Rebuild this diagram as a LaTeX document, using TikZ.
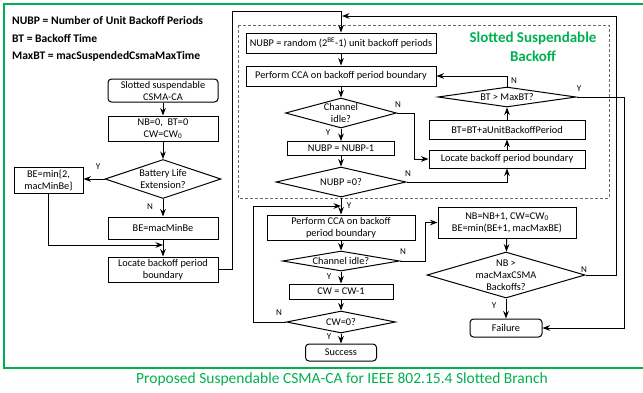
\documentclass[tikz,border=0pt]{standalone}
\usepackage{fontspec}
\setmainfont{Carlito}
\usepackage{xcolor}
\usepackage{tikz}
\usetikzlibrary{arrows.meta}
\usetikzlibrary{shapes.geometric}

\definecolor{verde}{RGB}{0,176,80}
\definecolor{gris}{RGB}{105,105,105}

\begin{document}
\begin{tikzpicture}[
            x=1pt, y=-1pt, font=\fontsize{10.3}{12}\selectfont,
            >=Stealth,
            box/.style={draw, line width=1pt, align=center, inner sep=1pt},
            rbox/.style={box, rounded corners=3.5pt},
            dia/.style={draw, diamond, line width=1pt, inner sep=0pt},
            lab/.style={align=center, inner sep=0pt},
            yn/.style={font=\fontsize{9}{10}\selectfont, inner sep=0pt},
            defn/.style={anchor=west, inner sep=0pt, font=\bfseries\fontsize{11.6}{13}\selectfont},
            flow/.style={->, line width=1pt}
        ]
            \useasboundingbox (0,0) rectangle (643,392);

            % Marco y pie
            \draw[verde, line width=1.2pt] (4,4) rectangle (660,368);
            \node[verde, font=\fontsize{15.5}{17}\selectfont] (pie) at (342,379) {Proposed Suspendable CSMA-CA for IEEE 802.15.4 Slotted Branch};

            % Definiciones
            \node[defn] (def1) at (12,20) {NUBP = Number of Unit Backoff Periods};
            \node[defn] (def2) at (12,38) {BT = Backoff Time};
            \node[defn] (def3) at (12,56) {MaxBT = macSuspendedCsmaMaxTime};

            % Parte izquierda
            \node[rbox, minimum width=110, minimum height=23] (inicio) at (163,90.5) {Slotted suspendable\\CSMA-CA};
            \node[box, minimum width=110, minimum height=25] (ini) at (163,128.5) {NB=0,\ \ BT=0\\CW=CW\textsubscript{0}};
            \node[dia, minimum width=116, minimum height=39, label={[lab]center:Battery Life\\Extension?}] (bat) at (163,179) {};
            \node[box, minimum width=69, minimum height=26] (bemin) at (48.5,180) {BE=min\{2,\\macMinBe\}};
            \node[box, minimum width=110, minimum height=22] (bemac) at (163,228) {BE=macMinBe};
            \node[box, minimum width=110, minimum height=25] (loc1) at (163,269.5) {Locate backoff period\\boundary};
            \coordinate (m1) at (163,245);

            \draw[flow] (inicio) -- (ini);
            \draw[flow] (ini) -- (bat);
            \draw[flow] (bat.west) -- (bemin.east |- bat.west);
            \draw[flow] (bat) -- (bemac);
            \draw[flow] (bemin.south) |- (m1);
            \draw[flow] (bemac) -- (loc1);
            \node[yn] (y1) at (98,167) {Y};
            \node[yn] (n1) at (150,207) {N};

            % Backoff suspendible
            \draw[gris, line width=0.8pt, dash pattern=on 3pt off 2pt] (238,25) rectangle (609,198);
            \node[verde, align=center, font=\bfseries\fontsize{15}{19}\selectfont] (titulo) at (533,46.5) {Slotted Suspendable\\Backoff};

            \node[box, minimum width=190, minimum height=20] (nubp) at (341,43) {NUBP = random (2\textsuperscript{BE}-1) unit backoff periods};
            \node[box, minimum width=190, minimum height=20] (cca1) at (341,76) {Perform CCA on backoff period boundary};
            \node[dia, minimum width=111, minimum height=30, label={[lab]center:Channel\\idle?}] (idle1) at (341,113) {};
            \node[box, minimum width=107, minimum height=14] (dec1) at (341,148.5) {NUBP = NUBP-1};
            \node[dia, minimum width=130, minimum height=30, label={[lab]center:NUBP =0?}] (cero1) at (341,182) {};
            \node[dia, minimum width=138, minimum height=20, label={[lab]center:BT > MaxBT?}] (btmax) at (507,97) {};
            \node[box, minimum width=156, minimum height=19] (btinc) at (507,129.5) {BT=BT+aUnitBackoffPeriod};
            \node[box, minimum width=156, minimum height=18] (loc2) at (507,159) {Locate backoff period boundary};

            \coordinate (c1) at (232,11);
            \draw[flow] (loc1.east) -| (c1) -| (nubp.north);
            \draw[flow] (nubp) -- (cca1);
            \draw[flow] (cca1) -- (idle1);
            \draw[flow] (idle1) -- (dec1);
            \draw[flow] (dec1) -- (cero1);
            \draw[flow] (idle1.east) -- ++(17,0) |- (loc2.west);
            \draw[flow] (cero1.east) -| (loc2.south);
            \draw[flow] (loc2) -- (btinc);
            \draw[flow] (btinc) -- (btmax);
            \draw[flow] (btmax.north) |- (cca1.east);
            \node[yn] (n2) at (398,105) {N};
            \node[yn] (y2) at (328,133) {Y};
            \node[yn] (n3) at (408,174) {N};
            \node[yn] (n4) at (514,81) {N};
            \node[yn] (y3) at (579,89) {Y};

            % Parte inferior
            \node[box, minimum width=148, minimum height=25] (cca2) at (341,227.5) {Perform CCA on backoff\\period boundary};
            \node[dia, minimum width=117, minimum height=20, label={[lab]center:Channel idle?}] (idle2) at (341,261) {};
            \node[box, minimum width=104, minimum height=15] (cw) at (341,291.5) {CW = CW-1};
            \node[dia, minimum width=109, minimum height=22, label={[lab]center:CW=0?}] (cw0) at (341,322) {};
            \node[rbox, minimum width=71, minimum height=17] (exito) at (341,352.5) {Success};
            \node[box, minimum width=138, minimum height=31] (nbinc) at (507,222.5) {NB=NB+1, CW=CW\textsubscript{0}\\BE=min(BE+1, macMaxBE)};
            \node[dia, minimum width=158, minimum height=46, label={[lab]center:NB >\\macMaxCSMA\\Backoffs?}] (nbmax) at (506,275) {};
            \node[rbox, minimum width=72, minimum height=18] (fallo) at (506,328) {Failure};
            \coordinate (j1) at (342,16);
            \coordinate (j2) at (341,206);
            \coordinate (c3) at (616,16);
            \coordinate (c4) at (624,328);

            \draw[flow] (cero1) -- (cca2);
            \draw[flow] (cca2) -- (idle2);
            \draw[flow] (idle2) -- (cw);
            \draw[flow] (cw) -- (cw0);
            \draw[flow] (cw0) -- (exito);
            \draw[flow] (cw0.west) -- ++(-33,0) |- (j2);
            \draw[flow] (idle2.east) -- ++(25,0) |- (nbinc.west);
            \draw[flow] (nbinc) -- (nbmax);
            \draw[flow] (nbmax) -- (fallo);
            \draw[flow] (nbmax.east) -| (c3) -- (j1);
            \draw[flow] (btmax.east) -| (c4) -- (fallo.east);
            \node[yn] (y4) at (349,206) {Y};
            \node[yn] (n5) at (403,252) {N};
            \node[yn] (y5) at (329,277) {Y};
            \node[yn] (n6) at (279,313) {N};
            \node[yn] (y6) at (329,337) {Y};
            \node[yn] (n7) at (584,270) {N};
            \node[yn] (y7) at (494,306) {Y};

        \end{tikzpicture}
\end{document}
